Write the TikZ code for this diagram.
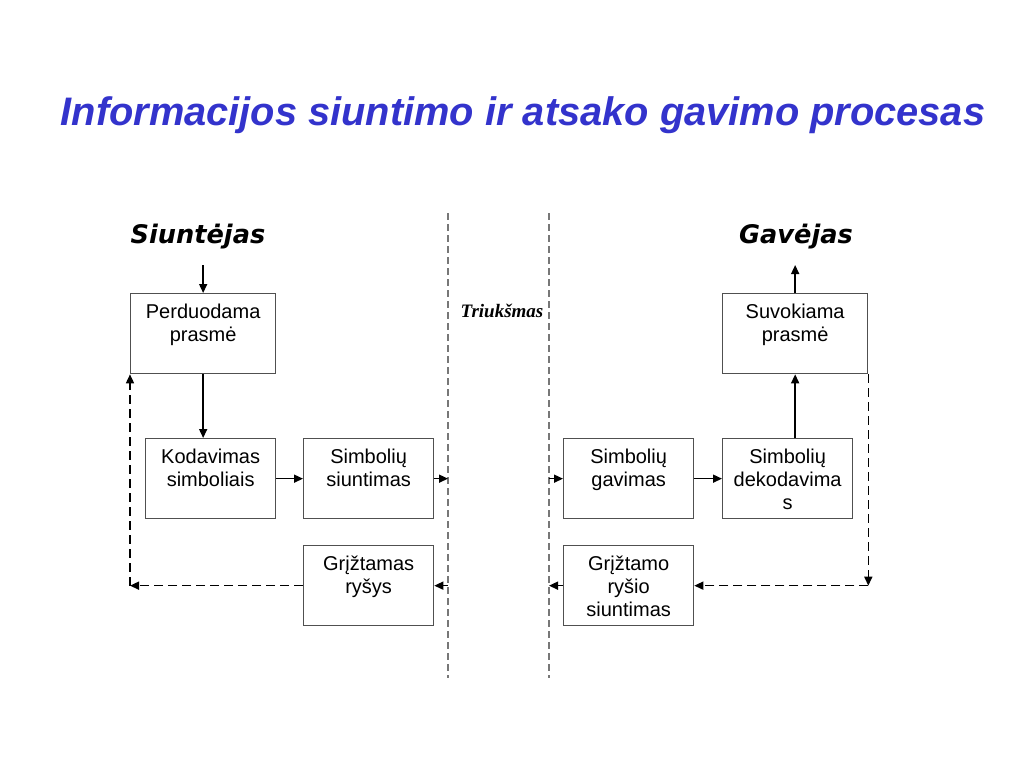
\documentclass[tikz,border=0pt]{standalone}
\usepackage{fontspec}
\setmainfont{Liberation Sans}
\newfontfamily\vrdfont{DejaVu Sans}
\newfontfamily\tmsfont{Liberation Serif}
\usepackage{xcolor}
\usetikzlibrary{positioning,arrows.meta,calc}
\definecolor{TitleBlue}{HTML}{3333CC}
\definecolor{BoxLine}{HTML}{505050}
\definecolor{NoiseLine}{HTML}{777777}

\begin{document}
\begin{tikzpicture}[
  x=1pt, y=-1pt, >={Triangle[length=9pt,width=8pt]},
  blok/.style={draw=BoxLine,line width=1.3pt,inner sep=0pt,anchor=north west,
               font=\fontsize{20}{23}\selectfont,
               execute at begin node={\begin{minipage}[t][80pt][t]{#1}\centering\rule{0pt}{25pt}},
               execute at end node={\end{minipage}}},
  side/.style={font=\vrdfont\bfseries\itshape\fontsize{25.6}{30}\selectfont,anchor=base},
  e/.style={->,line width=1.5pt,black},
  fb/.style={->,line width=1.5pt,black,dash pattern=on 9pt off 5pt},
  noise/.style={line width=1.4pt,NoiseLine,dash pattern=on 7pt off 4pt},
]
\useasboundingbox (0,0) rectangle (1024,768);

\node[anchor=base,text=TitleBlue,font=\bfseries\itshape\fontsize{39.8}{46}\selectfont]
  (title) at (523,125) {Informacijos siuntimo ir atsako gavimo procesas};
\node[side] (snd) at (198,243) {Siuntėjas};
\node[side] (rcv) at (796,243) {Gavėjas};

% the two sides, each box placed by its top left corner
\node[blok=145pt] (perd)  at (130,293) {Perduodama\\prasmė};
\node[blok=130pt] (kod)   at (145,438) {Kodavimas\\simboliais};
\node[blok=130pt] (siunt) at (303,438) {Simbolių\\siuntimas};
\node[blok=130pt] (grizt) at (303,545) {Grįžtamas\\ryšys};

\node[blok=130pt] (gav)    at (563,438) {Simbolių\\gavimas};
\node[blok=130pt] (dekod)  at (722,438) {Simbolių\\dekodavima\\s};
\node[blok=145pt] (suvok)  at (722,293) {Suvokiama\\prasmė};
\node[blok=130pt] (grsiu)  at (563,545) {Grįžtamo\\ryšio\\siuntimas};

% noise band between the two dashed lines
\coordinate (nLt) at (448,213);
\coordinate (nLb) at (448,678);
\coordinate (nRt) at (549,213);
\coordinate (nRb) at (549,678);
\draw[noise] (nLt) -- (nLb);
\draw[noise] (nRt) -- (nRb);
\node[anchor=base,font=\tmsfont\bfseries\itshape\fontsize{19}{22}\selectfont]
  (noiseLbl) at (502,317) {Triukšmas};

\coordinate (inS)  at ($(perd.north)+(0,-28)$);
\coordinate (outR) at ($(suvok.north)+(0,-28)$);

% forward path
\draw[e] (inS) -- (perd.north);
\draw[e] (perd.south) -- (perd.south |- kod.north);
\draw[e] (kod.east) -- (siunt.west);
\draw[e] (siunt.east) -- (siunt.east -| nLt);
\draw[e] (gav.west -| nRt) -- (gav.west);
\draw[e] (gav.east) -- (dekod.west);
\draw[e] (suvok.south |- dekod.north) -- (suvok.south);
\draw[e] (suvok.north) -- (outR);

% feedback path
\coordinate (fbR) at (suvok.south east |- grsiu.east);
\coordinate (fbL) at (perd.south west |- grizt.west);
\draw[fb] (suvok.south east) -- (fbR);
\draw[fb] (fbR) -- (grsiu.east);
\draw[e] (grsiu.west) -- (grsiu.west -| nRt);
\draw[e] (grizt.east -| nLt) -- (grizt.east);
\draw[fb] (grizt.west) -- (fbL);
\draw[fb] (fbL) -- (perd.south west);
\end{tikzpicture}
\end{document}
